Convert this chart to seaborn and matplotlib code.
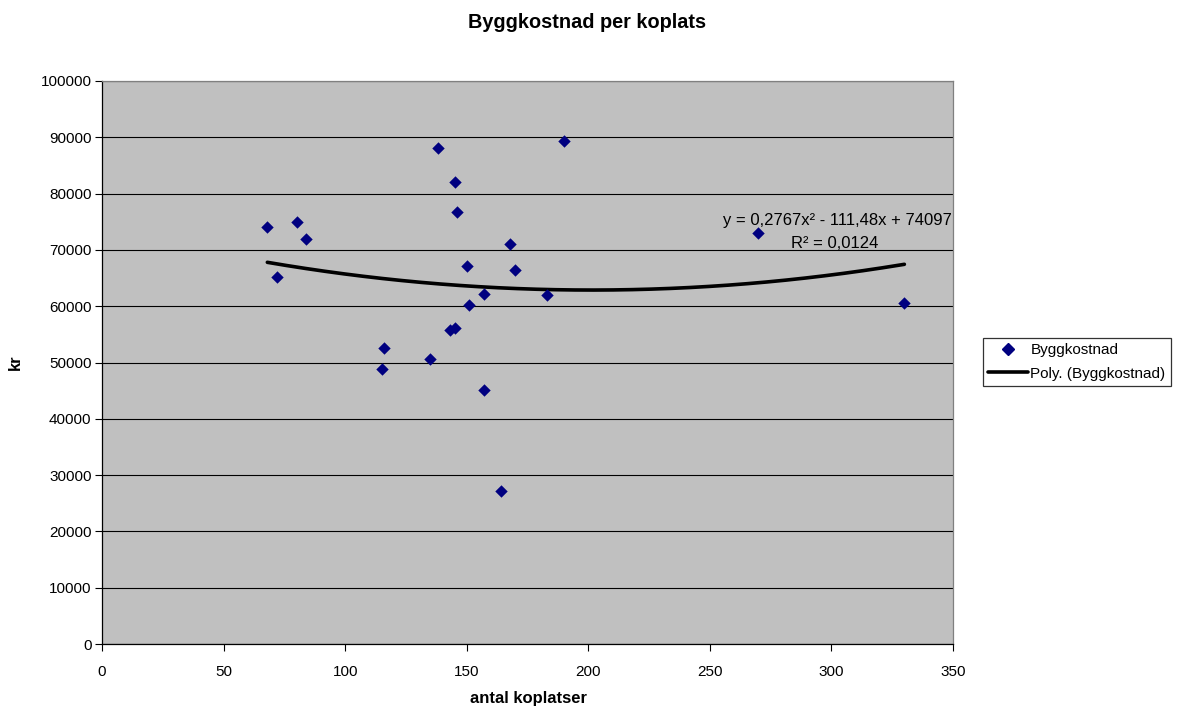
import numpy as np
import pandas as pd
import matplotlib
matplotlib.use("Agg")
import matplotlib.pyplot as plt
import seaborn as sns
from matplotlib.lines import Line2D

# Number of cow places per barn and building cost per place (kr)
koplatser = [68, 72, 80, 84, 115, 116, 135, 138, 143, 145, 145, 146,
             150, 151, 157, 157, 164, 168, 170, 183, 190, 270, 330]
byggkostnad = [74000, 65200, 75000, 72000, 48900, 52600, 50700, 88100, 55700,
               56200, 82000, 76700, 67100, 60300, 62200, 45100, 27100, 71000,
               66500, 62000, 89300, 73000, 60500]

# Second-order trend: y = a x^2 + b x + c
trend_coef = [0.2767, -111.48, 74097]
r_squared = 0.0124
trend_range = [68, 330]

x_ticks = [0, 50, 100, 150, 200, 250, 300, 350]
y_ticks = [0, 10000, 20000, 30000, 40000, 50000, 60000, 70000, 80000, 90000, 100000]

sns.set_theme(style="white")
plt.rcParams["font.family"] = ["Liberation Sans", "DejaVu Sans"]
plt.rcParams.update({"text.color": "black", "axes.labelcolor": "black",
                     "xtick.color": "black", "ytick.color": "black"})

df = pd.DataFrame({"koplatser": koplatser, "kr": byggkostnad})
xt = np.linspace(trend_range[0], trend_range[1], 200)
trend = pd.DataFrame({"koplatser": xt, "kr": np.polyval(trend_coef, xt)})

fig = plt.figure(figsize=(11.8, 7.07), dpi=100)
ax = fig.add_axes([102 / 1180, 1 - 644 / 707, (953 - 102) / 1180, (644 - 81) / 707])
ax.set_facecolor("#C0C0C0")

ax.set_axisbelow(True)
ax.yaxis.grid(True, color="#000000", linewidth=0.8)
ax.xaxis.grid(False)

sns.lineplot(data=trend, x="koplatser", y="kr", ax=ax, color="black",
             linewidth=2.6, zorder=3)
sns.scatterplot(data=df, x="koplatser", y="kr", ax=ax, marker="D", s=40,
                color="#000080", edgecolor="#000080", linewidth=0, zorder=4)

ax.set_xlim(0, 350)
ax.set_ylim(0, 100000)
ax.set_xticks(x_ticks)
ax.set_yticks(y_ticks)
ax.set_xticklabels([str(v) for v in x_ticks])
ax.set_yticklabels([str(v) for v in y_ticks])
ax.tick_params(axis="both", which="major", direction="out", length=5, width=0.8,
               color="black", labelcolor="black", labelsize=11,
               bottom=True, left=True)
ax.tick_params(axis="x", pad=10)
ax.tick_params(axis="y", pad=2.5)

for side in ["left", "bottom"]:
    ax.spines[side].set_color("black")
    ax.spines[side].set_linewidth(0.9)
for side in ["top", "right"]:
    ax.spines[side].set_color("#808080")
    ax.spines[side].set_linewidth(0.9)

ax.set_xlabel("")
ax.set_ylabel("")
fig.text(529 / 1180, 1 - 698 / 707, "antal koplatser", ha="center", va="center",
         fontsize=12, fontweight="bold", color="black")
fig.text(15 / 1180, 1 - 362 / 707, "kr", ha="center", va="center", rotation=90,
         fontsize=12, fontweight="bold", color="black")

fig.text(587 / 1180, 1 - 23 / 707, "Byggkostnad per koplats", ha="center",
         va="center", fontsize=14.3, fontweight="bold", color="black")

a, b, c = trend_coef
eq = f"y = {a:.4f}x² - {abs(b):.2f}x + {c:.0f}".replace(".", ",")
fig.text(952 / 1180, 1 - 220 / 707, eq, ha="right", va="center", fontsize=12,
         color="black")
fig.text(835 / 1180, 1 - 244 / 707, f"R² = {r_squared:.4f}".replace(".", ","),
         ha="center", va="center", fontsize=12, color="black")

handles = [
    Line2D([], [], marker="D", linestyle="none", color="#000080", markersize=6),
    Line2D([], [], color="black", linewidth=2.6),
]
leg = fig.legend(handles, ["Byggkostnad", "Poly. (Byggkostnad)"],
                 loc="center left", bbox_to_anchor=(983 / 1180, 1 - 362 / 707),
                 frameon=True, fancybox=False, fontsize=11, handlelength=2.6,
                 handletextpad=0.15, borderpad=0.35, labelspacing=0.6,
                 borderaxespad=0, labelcolor="black")
leg.get_frame().set_edgecolor("black")
leg.get_frame().set_linewidth(0.9)
leg.get_frame().set_facecolor("white")

fig.savefig("out.png", dpi=100, facecolor="white")
